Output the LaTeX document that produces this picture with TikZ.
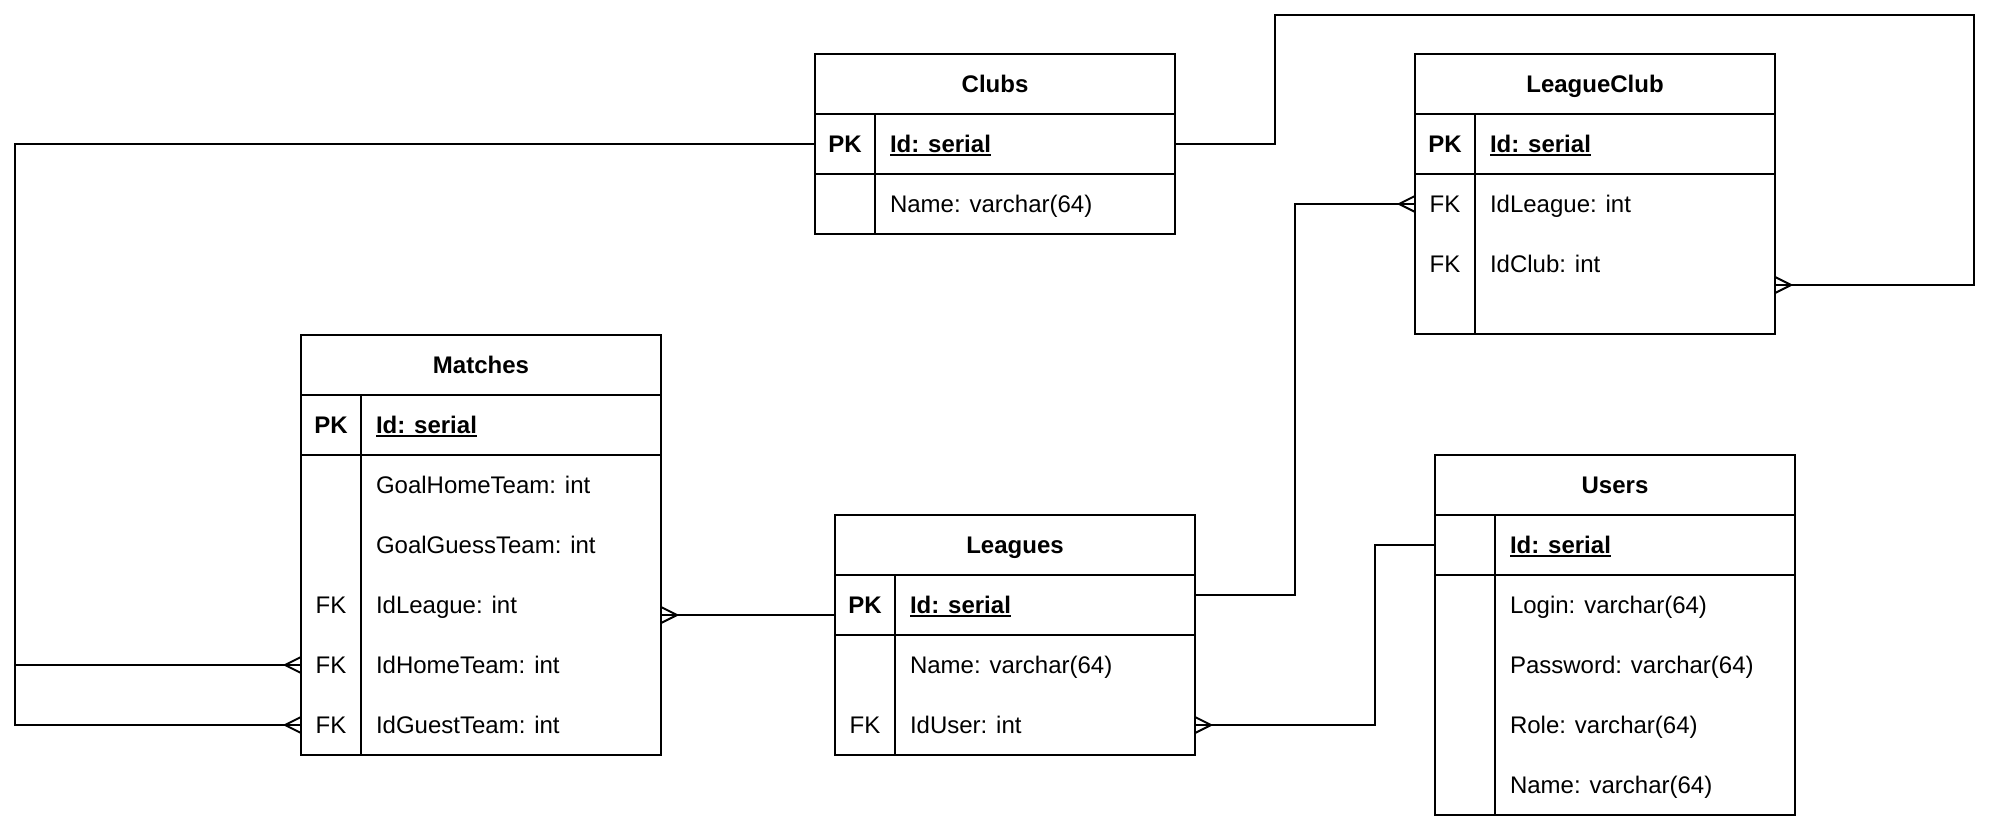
\documentclass[tikz,border=0pt]{standalone}
\usepackage{fontspec}
\setmainfont{Liberation Sans}
\usetikzlibrary{calc}
\newcommand{\myul}[1]{\setbox0\hbox{#1}\rlap{\rule[-1.7pt]{\wd0}{0.9pt}}\box0}
\begin{document}
\begin{tikzpicture}[x=1pt,y=-1pt,line width=1pt,
  sec/.style={draw,rectangle,anchor=north west,minimum width=180pt,inner sep=0pt,outer sep=0pt},
  hdr/.style={sec,minimum height=30pt,text height=8.6pt,text depth=0pt,font=\fontsize{12}{14}\selectfont\bfseries},
  rowc/.style={rectangle,minimum width=180pt,minimum height=30pt,inner sep=0pt,outer sep=0pt,anchor=north west},
  keyt/.style={anchor=center,inner sep=0pt,text height=8.6pt,text depth=0pt,font=\fontsize{12}{14}\selectfont},
  keyb/.style={keyt,font=\fontsize{12}{14}\selectfont\bfseries},
  valt/.style={anchor=west,inner sep=0pt,text height=8.6pt,text depth=0pt,font=\fontsize{12}{14}\selectfont},
  crow/.pic={\draw (8,0) -- (0,-4) (8,0) -- (0,4);}
]
\useasboundingbox (0,0) rectangle (996,409);

% ---------- Clubs ----------
\node[hdr] (cH) at (407.5,27) {Clubs};
\node[sec,minimum height=30pt] (cPK) at (cH.south west) {};
\node[sec,minimum height=30pt] (cB) at (cPK.south west) {};
\draw ($(cPK.north west)+(30,0)$) -- ($(cB.south west)+(30,0)$);
\node[keyb] (cK0) at ($(cPK.west)+(15,0)$) {PK};
\node[valt] (cV0) at ($(cPK.west)+(37,0)$) {\bfseries\myul{Id: serial}};
\node[rowc] (cR1) at (cB.north west) {};
\node[valt] (cV1) at ($(cR1.west)+(37,0)$) {Name: varchar(64)};

% ---------- LeagueClub ----------
\node[hdr] (lcH) at (707.5,27) {LeagueClub};
\node[sec,minimum height=30pt] (lcPK) at (lcH.south west) {};
\node[sec,minimum height=80pt] (lcB) at (lcPK.south west) {};
\draw ($(lcPK.north west)+(30,0)$) -- ($(lcB.south west)+(30,0)$);
\node[keyb] (lcK0) at ($(lcPK.west)+(15,0)$) {PK};
\node[valt] (lcV0) at ($(lcPK.west)+(37,0)$) {\bfseries\myul{Id: serial}};
\node[rowc] (lcR1) at (lcB.north west) {};
\node[rowc] (lcR2) at ($(lcB.north west)+(0,30)$) {};
\node[keyt] (lcK1) at ($(lcR1.west)+(15,0)$) {FK};
\node[valt] (lcV1) at ($(lcR1.west)+(37,0)$) {IdLeague: int};
\node[keyt] (lcK2) at ($(lcR2.west)+(15,0)$) {FK};
\node[valt] (lcV2) at ($(lcR2.west)+(37,0)$) {IdClub: int};

% ---------- Matches ----------
\node[hdr] (mH) at (150.5,167.5) {Matches};
\node[sec,minimum height=30pt] (mPK) at (mH.south west) {};
\node[sec,minimum height=150pt] (mB) at (mPK.south west) {};
\draw ($(mPK.north west)+(30,0)$) -- ($(mB.south west)+(30,0)$);
\node[keyb] (mK0) at ($(mPK.west)+(15,0)$) {PK};
\node[valt] (mV0) at ($(mPK.west)+(37,0)$) {\bfseries\myul{Id: serial}};
\node[rowc] (mR1) at (mB.north west) {};
\node[rowc] (mR2) at ($(mB.north west)+(0,30)$) {};
\node[rowc] (mR3) at ($(mB.north west)+(0,60)$) {};
\node[rowc] (mR4) at ($(mB.north west)+(0,90)$) {};
\node[rowc] (mR5) at ($(mB.north west)+(0,120)$) {};
\node[valt] (mV1) at ($(mR1.west)+(37,0)$) {GoalHomeTeam: int};
\node[valt] (mV2) at ($(mR2.west)+(37,0)$) {GoalGuessTeam: int};
\node[keyt] (mK3) at ($(mR3.west)+(15,0)$) {FK};
\node[valt] (mV3) at ($(mR3.west)+(37,0)$) {IdLeague: int};
\node[keyt] (mK4) at ($(mR4.west)+(15,0)$) {FK};
\node[valt] (mV4) at ($(mR4.west)+(37,0)$) {IdHomeTeam: int};
\node[keyt] (mK5) at ($(mR5.west)+(15,0)$) {FK};
\node[valt] (mV5) at ($(mR5.west)+(37,0)$) {IdGuestTeam: int};

% ---------- Leagues ----------
\node[hdr] (lH) at (417.5,257.5) {Leagues};
\node[sec,minimum height=30pt] (lPK) at (lH.south west) {};
\node[sec,minimum height=60pt] (lB) at (lPK.south west) {};
\draw ($(lPK.north west)+(30,0)$) -- ($(lB.south west)+(30,0)$);
\node[keyb] (lK0) at ($(lPK.west)+(15,0)$) {PK};
\node[valt] (lV0) at ($(lPK.west)+(37,0)$) {\bfseries\myul{Id: serial}};
\node[rowc] (lR1) at (lB.north west) {};
\node[rowc] (lR2) at ($(lB.north west)+(0,30)$) {};
\node[valt] (lV1) at ($(lR1.west)+(37,0)$) {Name: varchar(64)};
\node[keyt] (lK2) at ($(lR2.west)+(15,0)$) {FK};
\node[valt] (lV2) at ($(lR2.west)+(37,0)$) {IdUser: int};

% ---------- Users ----------
\node[hdr] (uH) at (717.5,227.5) {Users};
\node[sec,minimum height=30pt] (uPK) at (uH.south west) {};
\node[sec,minimum height=120pt] (uB) at (uPK.south west) {};
\draw ($(uPK.north west)+(30,0)$) -- ($(uB.south west)+(30,0)$);
\node[valt] (uV0) at ($(uPK.west)+(37,0)$) {\bfseries\myul{Id: serial}};
\node[rowc] (uR1) at (uB.north west) {};
\node[rowc] (uR2) at ($(uB.north west)+(0,30)$) {};
\node[rowc] (uR3) at ($(uB.north west)+(0,60)$) {};
\node[rowc] (uR4) at ($(uB.north west)+(0,90)$) {};
\node[valt] (uV1) at ($(uR1.west)+(37,0)$) {Login: varchar(64)};
\node[valt] (uV2) at ($(uR2.west)+(37,0)$) {Password: varchar(64)};
\node[valt] (uV3) at ($(uR3.west)+(37,0)$) {Role: varchar(64)};
\node[valt] (uV4) at ($(uR4.west)+(37,0)$) {Name: varchar(64)};

% ---------- Connectors ----------
% Clubs -> Matches (IdHomeTeam, IdGuestTeam)
\draw (cPK.west) -- ++(-400,0) |- (mR4.west);
\draw (cPK.west) -- ++(-400,0) |- (mR5.west);
\pic[rotate=180] at (mR4.west) {crow};
\pic[rotate=180] at (mR5.west) {crow};

% Leagues -> Matches (IdLeague)
\draw ($(lPK.west)+(0,5)$) -- ($(mR3.east)+(0,5)$);
\pic at ($(mR3.east)+(0,5)$) {crow};

% Leagues -> LeagueClub (IdLeague)
\draw ($(lPK.east)+(0,-5)$) -- ++(50,0) |- (lcR1.west);
\pic[rotate=180] at (lcR1.west) {crow};

% Clubs -> LeagueClub (IdClub)
\coordinate (topR) at (987,7.5);
\draw (cPK.east) -- ++(50,0) |- (topR) |- ($(lcB.north east)+(0,55.5)$);
\pic at ($(lcB.north east)+(0,55.5)$) {crow};

% Users -> Leagues (IdUser)
\draw (uPK.west) -- ++(-30,0) |- (lR2.east);
\pic at (lR2.east) {crow};
\end{tikzpicture}
\end{document}
